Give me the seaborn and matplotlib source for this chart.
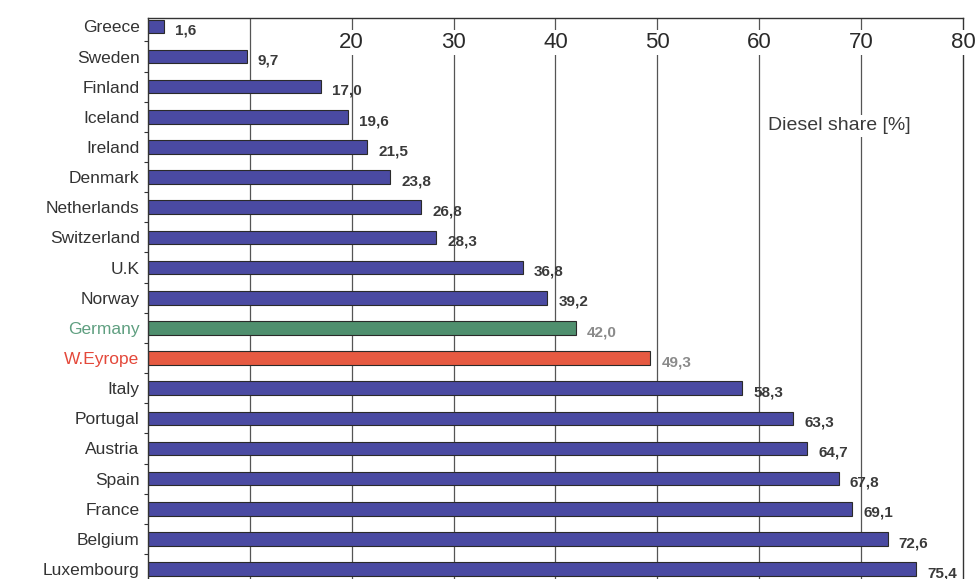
import pandas as pd
import matplotlib.pyplot as plt
import seaborn as sns

# Diesel share of new car registrations, by country
countries = ['Greece', 'Sweden', 'Finland', 'Iceland', 'Ireland', 'Denmark',
             'Netherlands', 'Switzerland', 'U.K', 'Norway', 'Germany',
             'W.Eyrope', 'Italy', 'Portugal', 'Austria', 'Spain', 'France',
             'Belgium', 'Luxembourg']
shares = [1.6, 9.7, 17.0, 19.6, 21.5, 23.8, 26.8, 28.3, 36.8, 39.2, 42.0,
          49.3, 58.3, 63.3, 64.7, 67.8, 69.1, 72.6, 75.4]
axis_ticks = [20, 30, 40, 50, 60, 70, 80]
grid_lines = [10, 20, 30, 40, 50, 60, 70]

bar_blue = '#4a4aa2'
highlight = {'Germany': '#4f8f6e', 'W.Eyrope': '#e65a42'}
label_colors = {'Germany': '#5f9f80', 'W.Eyrope': '#e4483a'}

sns.set_theme(style="white")
plt.rcParams['font.family'] = ['Liberation Sans', 'DejaVu Sans']

df = pd.DataFrame({'country': countries, 'share': shares})
palette = {c: highlight.get(c, bar_blue) for c in countries}

fig = plt.figure(figsize=(9.76, 5.79), dpi=100)
ax = fig.add_axes([0.1516, 0.0, 0.8351, 0.969])

for g in grid_lines:
    ax.axvline(g, color='#555555', lw=0.9, zorder=0)

sns.barplot(data=df, x='share', y='country', hue='country', palette=palette,
            legend=False, orient='h', width=0.45, edgecolor='#2a2a2a',
            linewidth=0.8, saturation=1, ax=ax, zorder=2)

ax.set_xlim(0, 80)
ax.set_ylim(18.33, -0.28)

# value labels at bar ends, comma decimals like the original print
for i, (c, v) in enumerate(zip(countries, shares)):
    col = '#8a8a8a' if c in highlight else '#3a3a3a'
    ax.text(v + 1.1, i + 0.14, f'{v:.1f}'.replace('.', ','), va='center',
            ha='left', fontsize=11, fontweight='bold', color=col, zorder=3)

# x tick numbers sit inside the frame, under the top line
for t in axis_ticks:
    ax.text(t, 0.55, str(t), ha='center', va='center', fontsize=16,
            color='#2a2a2a', zorder=4, clip_on=False,
            bbox=dict(facecolor='white', edgecolor='none', pad=1.5))

ax.text(67.9, 3.3, 'Diesel share [%]', ha='center', va='center', fontsize=14,
        color='#3a3a3a', zorder=4,
        bbox=dict(facecolor='white', edgecolor='none', pad=2))

ax.set_xticks([])
ax.set_xlabel('')
ax.set_ylabel('')
ax.set_yticks(range(len(countries)))
ax.set_yticklabels(countries, fontsize=12.5)
for lbl in ax.get_yticklabels():
    lbl.set_color(label_colors.get(lbl.get_text(), '#333333'))
ax.set_yticks([i + 0.5 for i in range(len(countries) - 1)], minor=True)
ax.tick_params(axis='y', which='major', length=0, pad=6)
ax.tick_params(axis='y', which='minor', length=3, width=0.8, color='#333333',
               left=True)

for side in ['top', 'left', 'right']:
    ax.spines[side].set_visible(True)
    ax.spines[side].set_color('#333333')
    ax.spines[side].set_linewidth(1.0)
ax.spines['bottom'].set_visible(False)

fig.savefig('out.png', dpi=100)
